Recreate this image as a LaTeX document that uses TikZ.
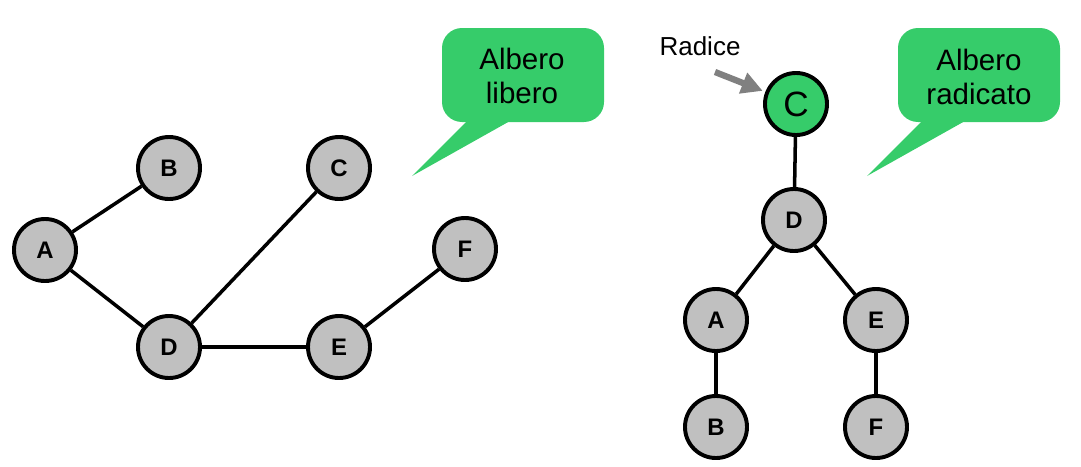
\documentclass[tikz,border=0pt]{standalone}
\usepackage{fontspec}
\setmainfont{Liberation Sans}
\usetikzlibrary{arrows.meta}
\definecolor{callgreen}{RGB}{54,204,106}
\definecolor{nodegray}{RGB}{192,192,192}
\definecolor{arrowgray}{RGB}{128,128,128}

\begin{document}
\begin{tikzpicture}[x=0.025cm, y=-0.025cm,
  vertex/.style={circle, draw, line width=2.8pt, fill=nodegray, minimum size=1.55cm, inner sep=0pt, font=\fontsize{17}{20}\selectfont\bfseries},
  root/.style={vertex, fill=callgreen, font=\fontsize{25}{30}\selectfont},
  edge/.style={line width=2.5pt},
  bubbletext/.style={align=center, font=\fontsize{21}{24}\selectfont}]
\useasboundingbox (0,0) rectangle (1081,467);
% albero libero
\node[vertex] (lA) at (45,250) {A};
\node[vertex] (lB) at (169,168) {B};
\node[vertex] (lC) at (339,168) {C};
\node[vertex] (lD) at (169,347) {D};
\node[vertex] (lE) at (339,347) {E};
\node[vertex] (lF) at (465,249) {F};
\foreach \u/\v in {lA/lB, lA/lD, lD/lC, lD/lE, lE/lF}{
\draw[edge] (\u) -- (\v);
}
% albero radicato
\node[root] (rC) at (796,104) {C};
\node[vertex] (rD) at (794,220) {D};
\node[vertex] (rA) at (716,320) {A};
\node[vertex] (rE) at (876,320) {E};
\node[vertex] (rB) at (716,427) {B};
\node[vertex] (rF) at (876,427) {F};
\foreach \u/\v in {rC/rD, rD/rA, rD/rE, rA/rB, rE/rF}{
\draw[edge] (\u) -- (\v);
}
\node[anchor=base, font=\fontsize{18.5}{22}\selectfont] (radice) at (700,55) {Radice};
\coordinate (radtail) at (715,72);
\draw[arrowgray, line width=4.5pt, -{Triangle[length=15pt,width=15pt]}, shorten >=2pt] (radtail) -- (rC);
% fumetti
\fill[callgreen, rounded corners=0.5cm] (442,28) rectangle (604,122);
\fill[callgreen] (467,121) -- (510,121) -- (412,176) -- cycle;
\node[bubbletext] (libero) at (522,76) {Albero\\libero};
\fill[callgreen, rounded corners=0.5cm] (898,28) rectangle (1060,122);
\fill[callgreen] (922,121) -- (965,121) -- (867,176) -- cycle;
\node[bubbletext] (radicato) at (979,77) {Albero\\radicato};
\end{tikzpicture}
\end{document}
